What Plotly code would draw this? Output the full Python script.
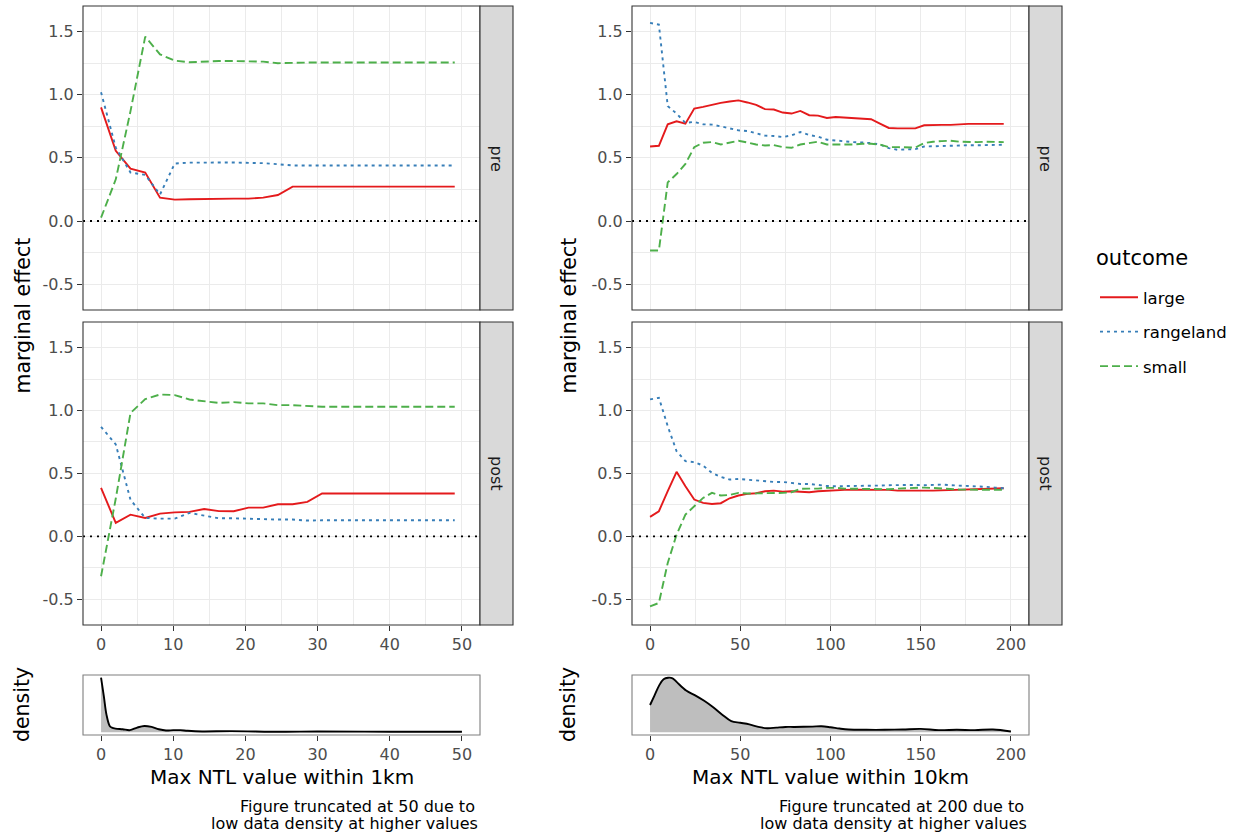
import plotly.graph_objects as go

# ---------------- data ----------------
OUTCOMES = ["large", "rangeland", "small"]

X_1KM = [0, 2.04, 4.08, 6.12, 8.17, 10.21, 12.25, 14.29, 16.33, 18.38, 20.42, 22.46,
         24.5, 26.54, 28.58, 30.62, 32.67, 34.71, 36.75, 38.79, 40.83, 42.88, 44.92, 46.96, 49.0]

PRE_1KM_LARGE = [0.90, 0.556, 0.415, 0.384, 0.185, 0.169, 0.172, 0.175, 0.177, 0.177, 0.177, 0.185,
                 0.206, 0.272, 0.272, 0.272, 0.272, 0.272, 0.272, 0.272, 0.272, 0.272, 0.272, 0.272, 0.272]
PRE_1KM_RANGELAND = [1.02, 0.58, 0.384, 0.365, 0.21, 0.455, 0.462, 0.46, 0.463, 0.463, 0.462, 0.458,
                     0.45, 0.44, 0.44, 0.44, 0.44, 0.44, 0.44, 0.44, 0.44, 0.44, 0.44, 0.44, 0.44]
PRE_1KM_SMALL = [0.026, 0.33, 0.87, 1.46, 1.32, 1.27, 1.257, 1.265, 1.267, 1.267, 1.265, 1.262,
                 1.25, 1.255, 1.255, 1.255, 1.255, 1.255, 1.255, 1.255, 1.255, 1.255, 1.255, 1.255, 1.255]

POST_1KM_LARGE = [0.385, 0.106, 0.172, 0.146, 0.18, 0.19, 0.194, 0.217, 0.2, 0.199, 0.228, 0.228,
                  0.255, 0.255, 0.273, 0.34, 0.34, 0.34, 0.34, 0.34, 0.34, 0.34, 0.34, 0.34, 0.34]
POST_1KM_RANGELAND = [0.87, 0.73, 0.29, 0.146, 0.14, 0.14, 0.186, 0.164, 0.143, 0.143, 0.138, 0.138,
                      0.133, 0.133, 0.125, 0.127, 0.127, 0.127, 0.127, 0.127, 0.127, 0.127, 0.127, 0.127, 0.127]
POST_1KM_SMALL = [-0.318, 0.3, 0.98, 1.09, 1.127, 1.122, 1.087, 1.074, 1.06, 1.066, 1.056, 1.056,
                  1.042, 1.042, 1.034, 1.029, 1.029, 1.029, 1.029, 1.029, 1.029, 1.029, 1.029, 1.029, 1.029]

X_10KM = [0, 4.9, 9.8, 14.7, 19.6, 24.5, 29.4, 34.3, 39.2, 44.1, 49.0, 53.9, 58.8, 63.7,
          68.6, 73.5, 78.4, 83.3, 88.2, 93.1, 98.0, 102.9, 107.8, 112.7, 117.6, 122.5, 127.4,
          132.3, 137.2, 142.1, 147.0, 151.9, 156.8, 161.7, 166.6, 171.5, 176.4, 181.3, 186.2,
          191.1, 196.0]

PRE_10KM_LARGE = [0.59, 0.596, 0.766, 0.79, 0.771, 0.89, 0.904, 0.923, 0.936, 0.947, 0.955, 0.939,
                  0.92, 0.886, 0.883, 0.859, 0.851, 0.872, 0.838, 0.835, 0.816, 0.824, 0.819, 0.814,
                  0.811, 0.806, 0.771, 0.737, 0.734, 0.734, 0.734, 0.758, 0.761, 0.761, 0.761, 0.766,
                  0.769, 0.769, 0.769, 0.769, 0.769]
PRE_10KM_RANGELAND = [1.569, 1.556, 0.91, 0.851, 0.777, 0.785, 0.766, 0.763, 0.75, 0.731, 0.718, 0.713,
                      0.697, 0.676, 0.673, 0.665, 0.678, 0.705, 0.681, 0.668, 0.644, 0.636, 0.63, 0.625,
                      0.622, 0.617, 0.606, 0.577, 0.564, 0.566, 0.569, 0.59, 0.593, 0.595, 0.595, 0.598,
                      0.6, 0.6, 0.602, 0.603, 0.604]
PRE_10KM_SMALL = [-0.234, -0.234, 0.306, 0.372, 0.452, 0.585, 0.62, 0.625, 0.606, 0.62, 0.636, 0.622,
                  0.606, 0.598, 0.601, 0.585, 0.58, 0.606, 0.617, 0.628, 0.606, 0.606, 0.604, 0.606,
                  0.612, 0.612, 0.606, 0.585, 0.585, 0.585, 0.582, 0.617, 0.628, 0.633, 0.636, 0.628,
                  0.625, 0.625, 0.628, 0.628, 0.625]

POST_10KM_LARGE = [0.154, 0.199, 0.358, 0.512, 0.398, 0.292, 0.265, 0.257, 0.263, 0.302, 0.324, 0.337,
                   0.342, 0.358, 0.363, 0.355, 0.358, 0.355, 0.35, 0.358, 0.363, 0.369, 0.369, 0.371,
                   0.371, 0.371, 0.371, 0.369, 0.363, 0.361, 0.363, 0.363, 0.363, 0.366, 0.363, 0.369,
                   0.371, 0.374, 0.377, 0.379, 0.382]
POST_10KM_RANGELAND = [1.088, 1.101, 0.875, 0.676, 0.597, 0.589, 0.562, 0.504, 0.472, 0.451, 0.456, 0.451,
                       0.44, 0.435, 0.432, 0.432, 0.424, 0.416, 0.416, 0.408, 0.4, 0.398, 0.398, 0.4,
                       0.4, 0.403, 0.403, 0.406, 0.408, 0.411, 0.408, 0.406, 0.411, 0.411, 0.406, 0.403,
                       0.403, 0.398, 0.393, 0.387, 0.382]
POST_10KM_SMALL = [-0.557, -0.53, -0.212, 0.013, 0.172, 0.239, 0.305, 0.345, 0.324, 0.329, 0.345, 0.34,
                   0.34, 0.345, 0.342, 0.345, 0.35, 0.377, 0.379, 0.379, 0.385, 0.385, 0.379, 0.377,
                   0.377, 0.377, 0.374, 0.374, 0.379, 0.382, 0.387, 0.387, 0.384, 0.379, 0.374, 0.371,
                   0.371, 0.371, 0.371, 0.369, 0.369]

DENS_1KM_X = [0, 0.4, 0.75, 1.2, 1.5, 2, 3, 4, 5, 6, 7, 8, 9, 10, 11, 12, 14, 18, 25, 30, 40, 50]
DENS_1KM_Y = [1.0, 0.648, 0.323, 0.116, 0.086, 0.068, 0.056, 0.039, 0.086, 0.116, 0.098, 0.056,
              0.033, 0.039, 0.039, 0.027, 0.015, 0.021, 0.009, 0.015, 0.009, 0.009]

DENS_10KM_X = [0, 2.5, 5, 7.5, 10, 12.5, 15, 20, 25, 30, 35, 40, 45, 50, 55, 60, 65, 70, 75, 80,
               90, 95, 100, 105, 110, 120, 130, 140, 150, 160, 170, 180, 190, 200]
DENS_10KM_Y = [0.5, 0.677, 0.855, 0.973, 1.0, 0.99, 0.914, 0.766, 0.677, 0.577, 0.459, 0.323,
               0.204, 0.175, 0.145, 0.098, 0.074, 0.086, 0.098, 0.098, 0.104, 0.11, 0.092, 0.068,
               0.051, 0.045, 0.045, 0.051, 0.062, 0.039, 0.045, 0.039, 0.051, 0.015]

Y_TICKVALS = [-0.5, 0.0, 0.5, 1.0, 1.5]
Y_TICKTEXT = ["-0.5", "0.0", "0.5", "1.0", "1.5"]
X_TICKS_1KM = [0, 10, 20, 30, 40, 50]
X_TICKS_10KM = [0, 50, 100, 150, 200]

# ---------------- styling ----------------
W, H = 1242, 836
FONT = "DejaVu Sans"
COLORS = {"large": "#E41A1C", "rangeland": "#377EB8", "small": "#4DAF4A"}
DASHES = {"large": "solid", "rangeland": "3px,4px", "small": "8px,4px"}
GRID = "#EBEBEB"
BORDER = "#333333"
TICKCOL = "#4D4D4D"
TICK_FS = 16
TITLE_FS = 20
SMALL_FS = 16


def fx(p):
    return p / W


def fy(p):
    return 1 - p / H


LEFT = (83, 480)
RIGHT = (632, 1029)
TOP = (6, 310)
BOT = (322, 625)
DENS = (675, 735)
STRIP_W = 33

fig = go.Figure()

panels = [
    ("", X_1KM, {"large": PRE_1KM_LARGE, "rangeland": PRE_1KM_RANGELAND, "small": PRE_1KM_SMALL}, True),
    ("2", X_1KM, {"large": POST_1KM_LARGE, "rangeland": POST_1KM_RANGELAND, "small": POST_1KM_SMALL}, False),
    ("4", X_10KM, {"large": PRE_10KM_LARGE, "rangeland": PRE_10KM_RANGELAND, "small": PRE_10KM_SMALL}, False),
    ("5", X_10KM, {"large": POST_10KM_LARGE, "rangeland": POST_10KM_RANGELAND, "small": POST_10KM_SMALL}, False),
]

for suf, xd, series, showleg in panels:
    for o in OUTCOMES:
        fig.add_trace(go.Scatter(
            x=xd, y=series[o], mode="lines", name=o, legendgroup=o, showlegend=showleg,
            line=dict(color=COLORS[o], width=1.9, dash=DASHES[o]),
            xaxis="x" + suf, yaxis="y" + suf, hoverinfo="skip"))

# density traces
fig.add_trace(go.Scatter(x=DENS_1KM_X, y=DENS_1KM_Y, mode="lines", fill="tozeroy",
                         fillcolor="#BEBEBE", line=dict(color="black", width=1.9, shape="spline"),
                         showlegend=False, xaxis="x3", yaxis="y3", hoverinfo="skip"))
fig.add_trace(go.Scatter(x=DENS_10KM_X, y=DENS_10KM_Y, mode="lines", fill="tozeroy",
                         fillcolor="#BEBEBE", line=dict(color="black", width=1.9, shape="spline"),
                         showlegend=False, xaxis="x6", yaxis="y6", hoverinfo="skip"))

tickfont = dict(family=FONT, size=TICK_FS, color=TICKCOL)


def xaxis(span, rng, ticks, minor, labels, anchor):
    return dict(domain=[fx(span[0]), fx(span[1])], range=rng, anchor=anchor,
                tickmode="array", tickvals=ticks, showgrid=True, gridcolor=GRID, gridwidth=1.1,
                minor=dict(dtick=minor, tick0=minor, showgrid=True, gridcolor=GRID, gridwidth=0.55,
                           ticks=""),
                ticks="outside" if labels else "", ticklen=5, tickcolor=BORDER, tickwidth=1.1,
                showticklabels=labels, tickfont=tickfont, zeroline=False, showline=False)


def yaxis(span, anchor):
    return dict(domain=[fy(span[1]), fy(span[0])], range=[-0.705, 1.703], anchor=anchor,
                tickmode="array", tickvals=Y_TICKVALS, ticktext=Y_TICKTEXT,
                showgrid=True, gridcolor=GRID, gridwidth=1.1,
                minor=dict(dtick=0.5, tick0=0.25, showgrid=True, gridcolor=GRID, gridwidth=0.55, ticks=""),
                ticks="outside", ticklen=5, tickcolor=BORDER, tickwidth=1.1,
                tickfont=tickfont, zeroline=False, showline=False)


def dens_x(span, rng, ticks, anchor):
    return dict(domain=[fx(span[0]), fx(span[1])], range=rng, anchor=anchor,
                tickmode="array", tickvals=ticks, showgrid=False, ticks="outside", ticklen=5,
                tickcolor=BORDER, tickwidth=1.1, tickfont=tickfont, zeroline=False, showline=False)


def dens_y(span, anchor):
    return dict(domain=[fy(span[1]), fy(span[0])], range=[-0.05, 1.05], anchor=anchor,
                showgrid=False, showticklabels=False, ticks="", zeroline=False, showline=False)


RNG1 = [-2.5, 52.5]
RNG10 = [-10, 210]

fig.update_layout(
    width=W, height=H, margin=dict(l=0, r=0, t=0, b=0),
    paper_bgcolor="white", plot_bgcolor="white",
    font=dict(family=FONT, color="black"),
    xaxis=xaxis(LEFT, RNG1, X_TICKS_1KM, 5, False, "y"),
    yaxis=yaxis(TOP, "x"),
    xaxis2=xaxis(LEFT, RNG1, X_TICKS_1KM, 5, True, "y2"),
    yaxis2=yaxis(BOT, "x2"),
    xaxis3=dens_x(LEFT, RNG1, X_TICKS_1KM, "y3"),
    yaxis3=dens_y(DENS, "x3"),
    xaxis4=xaxis(RIGHT, RNG10, X_TICKS_10KM, 25, False, "y4"),
    yaxis4=yaxis(TOP, "x4"),
    xaxis5=xaxis(RIGHT, RNG10, X_TICKS_10KM, 25, True, "y5"),
    yaxis5=yaxis(BOT, "x5"),
    xaxis6=dens_x(RIGHT, RNG10, X_TICKS_10KM, "y6"),
    yaxis6=dens_y(DENS, "x6"),
    legend=dict(x=fx(1095), y=fy(280), xanchor="left", yanchor="top",
                font=dict(family=FONT, size=16.5, color="black"),
                tracegroupgap=10, itemwidth=38, bgcolor="rgba(0,0,0,0)", traceorder="grouped"),
)

shapes = []
annotations = []

for suf in ["", "2", "4", "5"]:
    xr = "x" + suf
    yr = "y" + suf
    shapes.append(dict(type="line", xref=xr + " domain", yref=yr, x0=0, x1=1, y0=0, y1=0,
                       line=dict(color="black", width=1.8, dash="2px,5px"), layer="above"))
    shapes.append(dict(type="rect", xref=xr + " domain", yref=yr + " domain", x0=0, x1=1, y0=0, y1=1,
                       line=dict(color=BORDER, width=1.1), layer="above"))

for suf in ["3", "6"]:
    shapes.append(dict(type="rect", xref="x" + suf + " domain", yref="y" + suf + " domain",
                       x0=0, x1=1, y0=0, y1=1, line=dict(color="#7F7F7F", width=1.1), layer="above"))

# facet strips
for xs in [LEFT, RIGHT]:
    for ys, label in [(TOP, "pre"), (BOT, "post")]:
        shapes.append(dict(type="rect", xref="paper", yref="paper",
                           x0=fx(xs[1]), x1=fx(xs[1] + STRIP_W), y0=fy(ys[1]), y1=fy(ys[0]),
                           fillcolor="#D9D9D9", line=dict(color=BORDER, width=1.1), layer="above"))
        annotations.append(dict(x=fx(xs[1] + STRIP_W / 2), y=fy((ys[0] + ys[1]) / 2),
                                xref="paper", yref="paper", text=label, showarrow=False,
                                xanchor="center", yanchor="middle",
                                textangle=90, font=dict(family=FONT, size=SMALL_FS, color="#1A1A1A")))

# legend title
annotations.append(dict(x=fx(1094), y=fy(258), xref="paper", yref="paper", text="outcome",
                        showarrow=False, xanchor="left", yanchor="middle",
                        font=dict(family=FONT, size=21, color="black")))

# axis titles and captions
for cx, xcenter, xtitle, cap_right, cap1, cap2 in [
        (22, (LEFT[0] + LEFT[1]) / 2, "Max NTL value within 1km", LEFT[1],
         "Figure truncated at 50 due to", "low data density at higher values"),
        (568, (RIGHT[0] + RIGHT[1]) / 2, "Max NTL value within 10km", RIGHT[1],
         "Figure truncated at 200 due to", "low data density at higher values")]:
    annotations.append(dict(x=fx(cx), y=fy((TOP[0] + BOT[1]) / 2), xref="paper", yref="paper",
                            text="marginal effect", showarrow=False, textangle=-90,
                            xanchor="center", yanchor="middle",
                            font=dict(family=FONT, size=TITLE_FS + 0.5, color="black")))
    annotations.append(dict(x=fx(cx), y=fy((DENS[0] + DENS[1]) / 2), xref="paper", yref="paper",
                            text="density", showarrow=False, textangle=-90,
                            xanchor="center", yanchor="middle",
                            font=dict(family=FONT, size=TITLE_FS + 0.5, color="black")))
    annotations.append(dict(x=fx(xcenter), y=fy(777), xref="paper", yref="paper",
                            text=xtitle, showarrow=False, xanchor="center", yanchor="middle",
                            font=dict(family=FONT, size=TITLE_FS, color="black")))
    annotations.append(dict(x=fx(cap_right - 3), y=fy(806), xref="paper", yref="paper",
                            text=cap1, showarrow=False, xanchor="right", yanchor="middle",
                            font=dict(family=FONT, size=SMALL_FS, color="black")))
    annotations.append(dict(x=fx(cap_right), y=fy(823), xref="paper", yref="paper",
                            text=cap2, showarrow=False, xanchor="right", yanchor="middle",
                            font=dict(family=FONT, size=SMALL_FS, color="black")))

fig.update_layout(shapes=shapes, annotations=annotations)

fig.write_html("out.html")
